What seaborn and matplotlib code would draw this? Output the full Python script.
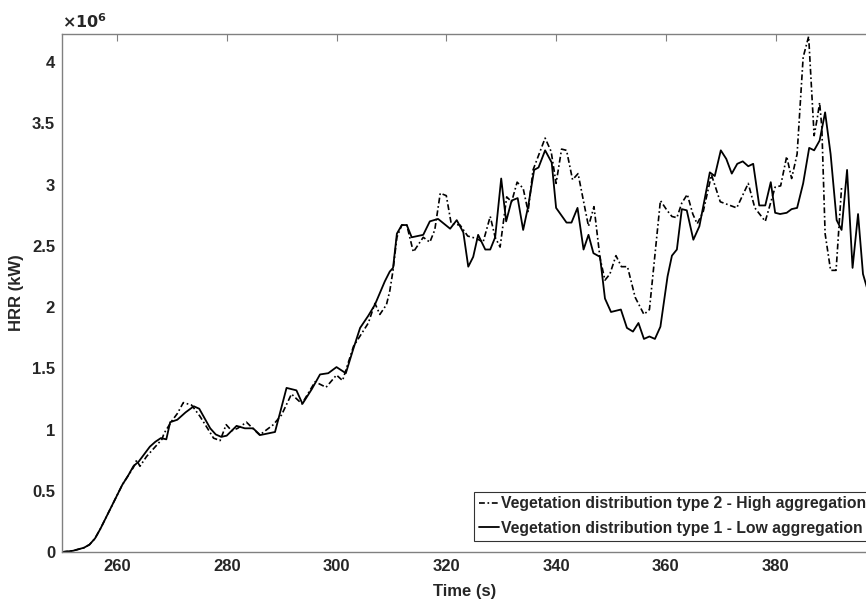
import numpy as np
import pandas as pd
import matplotlib
matplotlib.use("Agg")
import matplotlib.pyplot as plt
from matplotlib.ticker import FuncFormatter
import seaborn as sns

# ---- data (HRR in units of 10^6 kW) ----
t_type1 = [250, 252, 254, 255, 256, 257, 258, 259, 260, 261, 262, 263, 264, 265, 266, 267, 268,
           269, 269.7, 271, 272.5, 274, 275, 276, 277, 278, 279, 280, 281.8, 283.3, 284.8, 286.1,
           288.8, 290.9, 292.7, 293.8, 295.5, 297, 298.5, 300, 301.7, 303, 304.3, 305.8, 307,
           308.8, 309.7, 310.3, 311, 311.9, 312.8, 313.7, 315.8, 317, 318.5, 320.7, 321.9, 323.1,
           324, 324.9, 325.8, 327.1, 328, 328.9, 330, 330.9, 331.9, 333, 334, 334.9, 336, 336.8,
           338, 339.2, 340, 341.9, 342.8, 343.9, 345, 345.9, 346.8, 348, 348.9, 350, 351.8, 352.9,
           354, 355, 356, 357, 358, 359, 360.3, 361.1, 362, 362.9, 363.8, 365, 366.1, 368, 368.9,
           370, 371, 372, 373, 374, 375, 375.9, 377, 378.1, 379.1, 379.9, 380.8, 382, 382.9, 383.9,
           385, 386.1, 387, 388, 389, 390, 391.1, 392, 393, 394, 395, 395.9, 397]
hrr_type1 = [0.0, 0.01, 0.035, 0.06, 0.11, 0.19, 0.28, 0.37, 0.46, 0.55, 0.62, 0.70, 0.74, 0.80,
             0.86, 0.90, 0.93, 0.92, 1.06, 1.08, 1.14, 1.19, 1.17, 1.09, 1.01, 0.96, 0.94, 0.95,
             1.03, 1.01, 1.01, 0.955, 0.98, 1.34, 1.32, 1.21, 1.33, 1.45, 1.46, 1.51, 1.46, 1.65,
             1.83, 1.93, 2.02, 2.21, 2.29, 2.32, 2.60, 2.67, 2.67, 2.57, 2.59, 2.70, 2.72, 2.64,
             2.71, 2.61, 2.33, 2.41, 2.59, 2.47, 2.47, 2.57, 3.05, 2.70, 2.87, 2.89, 2.63, 2.82,
             3.12, 3.14, 3.28, 3.18, 2.81, 2.69, 2.69, 2.81, 2.47, 2.59, 2.44, 2.41, 2.07, 1.96,
             1.98, 1.83, 1.80, 1.87, 1.74, 1.76, 1.74, 1.84, 2.25, 2.42, 2.47, 2.80, 2.79, 2.55,
             2.66, 3.10, 3.07, 3.28, 3.21, 3.09, 3.17, 3.19, 3.15, 3.17, 2.83, 2.83, 3.02, 2.77,
             2.76, 2.77, 2.80, 2.81, 3.01, 3.30, 3.28, 3.36, 3.59, 3.25, 2.71, 2.63, 3.12, 2.32,
             2.76, 2.27, 2.10]

t_type2 = [250, 252, 254, 255, 256, 257, 258, 259, 260, 261, 262, 263, 263.6, 264.2, 265.4, 266.6,
           268.2, 268.6, 270, 271, 272.1, 273.6, 275.1, 276.5, 277.6, 278.8, 279.9, 280.9, 282,
           283.6, 286, 288.5, 290, 291.8, 293.7, 296.1, 298.1, 300, 301.1, 303.1, 305.8, 307,
           307.9, 309.1, 309.7, 310.3, 311, 311.9, 312.8, 314, 315.8, 317, 317.9, 318.9, 320,
           320.9, 322.5, 323.9, 325.5, 326.7, 328, 328.9, 329.8, 331, 331.9, 332.9, 334, 334.9,
           335.8, 336.9, 338, 339.1, 340, 341, 341.9, 343, 344, 345.9, 346.9, 348, 348.9, 349.8,
           350.9, 351.9, 353, 354.4, 356, 357, 359, 360.2, 361.1, 362, 362.9, 363.9, 364.9, 365.7,
           366.8, 368.3, 369.9, 372.9, 375, 376.2, 378.1, 379.9, 380.9, 382, 382.9, 383.9, 385,
           386, 387, 387.6, 388, 388.4, 389, 390, 391, 392]
hrr_type2 = [0.0, 0.01, 0.035, 0.06, 0.11, 0.19, 0.28, 0.37, 0.46, 0.55, 0.62, 0.69, 0.75, 0.70,
             0.78, 0.84, 0.92, 0.97, 1.07, 1.13, 1.22, 1.20, 1.11, 1.01, 0.93, 0.91, 1.04, 0.99,
             1.01, 1.06, 0.955, 1.04, 1.12, 1.29, 1.21, 1.39, 1.345, 1.445, 1.40, 1.68, 1.87, 2.03,
             1.94, 2.02, 2.13, 2.30, 2.57, 2.67, 2.67, 2.45, 2.57, 2.53, 2.63, 2.93, 2.91, 2.68,
             2.67, 2.58, 2.56, 2.53, 2.74, 2.57, 2.49, 2.90, 2.86, 3.02, 2.97, 2.78, 3.12, 3.25,
             3.38, 3.27, 3.01, 3.29, 3.28, 3.04, 3.09, 2.66, 2.82, 2.40, 2.22, 2.27, 2.42, 2.33,
             2.33, 2.08, 1.94, 1.98, 2.87, 2.79, 2.74, 2.73, 2.85, 2.92, 2.76, 2.68, 2.78, 3.08,
             2.86, 2.81, 3.01, 2.81, 2.70, 2.98, 2.99, 3.23, 3.05, 3.25, 4.04, 4.21, 3.40, 3.55,
             3.67, 3.47, 2.60, 2.30, 2.30, 2.98]

label_type2 = "Vegetation distribution type 2 - High aggregation"
label_type1 = "Vegetation distribution type 1 - Low aggregation"
x_ticks = [260, 280, 300, 320, 340, 360, 380]
y_ticks = [0, 0.5, 1, 1.5, 2, 2.5, 3, 3.5, 4]

df1 = pd.DataFrame({"t": t_type1, "hrr": np.array(hrr_type1) * 1e6})
df2 = pd.DataFrame({"t": t_type2, "hrr": np.array(hrr_type2) * 1e6})

sns.set_theme(style="white")
plt.rcParams["font.family"] = ["Liberation Sans", "DejaVu Sans"]
plt.rcParams["font.weight"] = "bold"

fig = plt.figure(figsize=(8.66, 6.02), dpi=100)
W, H = 866, 602
left, right, top, bottom = 62, 868, 34, 552
ax = fig.add_axes([left / W, (H - bottom) / H, (right - left) / W, (bottom - top) / H])

sns.lineplot(data=df2, x="t", y="hrr", ax=ax, color="black", lw=1.2,
             linestyle=(0, (3.5, 1.6, 1.0, 1.6)), estimator=None, sort=False,
             label=label_type2)
sns.lineplot(data=df1, x="t", y="hrr", ax=ax, color="black", lw=1.3,
             linestyle="-", estimator=None, sort=False, label=label_type1)

ax.set_xlim(250, 250 + (right - left) / 5.49)
ax.set_ylim(0, 4.23e6)
ax.set_xticks(x_ticks)
ax.set_yticks([v * 1e6 for v in y_ticks])
ax.yaxis.set_major_formatter(FuncFormatter(lambda v, p: f"{v / 1e6:g}"))

gray = "#808080"
for s in ax.spines.values():
    s.set_color(gray)
    s.set_linewidth(1.0)
ax.tick_params(axis="both", direction="in", length=5, width=0.8, color=gray,
               labelsize=12, labelcolor="#262626", top=True, right=False, pad=5)
for lbl in ax.get_xticklabels() + ax.get_yticklabels():
    lbl.set_fontweight("bold")

ax.set_xlabel("Time (s)", fontsize=12, fontweight="bold", color="#262626", labelpad=7)
ax.set_ylabel("HRR (kW)", fontsize=12, fontweight="bold", color="#262626", labelpad=6)

ax.text(0.0, 1.006, r"$\times\mathbf{10^{6}}$", transform=ax.transAxes, fontsize=11.5,
        fontweight="bold", color="#262626", ha="left", va="bottom")

leg = ax.legend(loc="lower left", bbox_to_anchor=((474 - left) / (right - left), 0.022),
                frameon=True, fancybox=False, shadow=False, fontsize=11.3, handlelength=1.3,
                handletextpad=0.15, borderpad=0.3, labelspacing=0.6, borderaxespad=0)
leg.get_frame().set_edgecolor("black")
leg.get_frame().set_linewidth(0.8)
for txt in leg.get_texts():
    txt.set_fontweight("bold")

fig.savefig("out.png", dpi=100)
